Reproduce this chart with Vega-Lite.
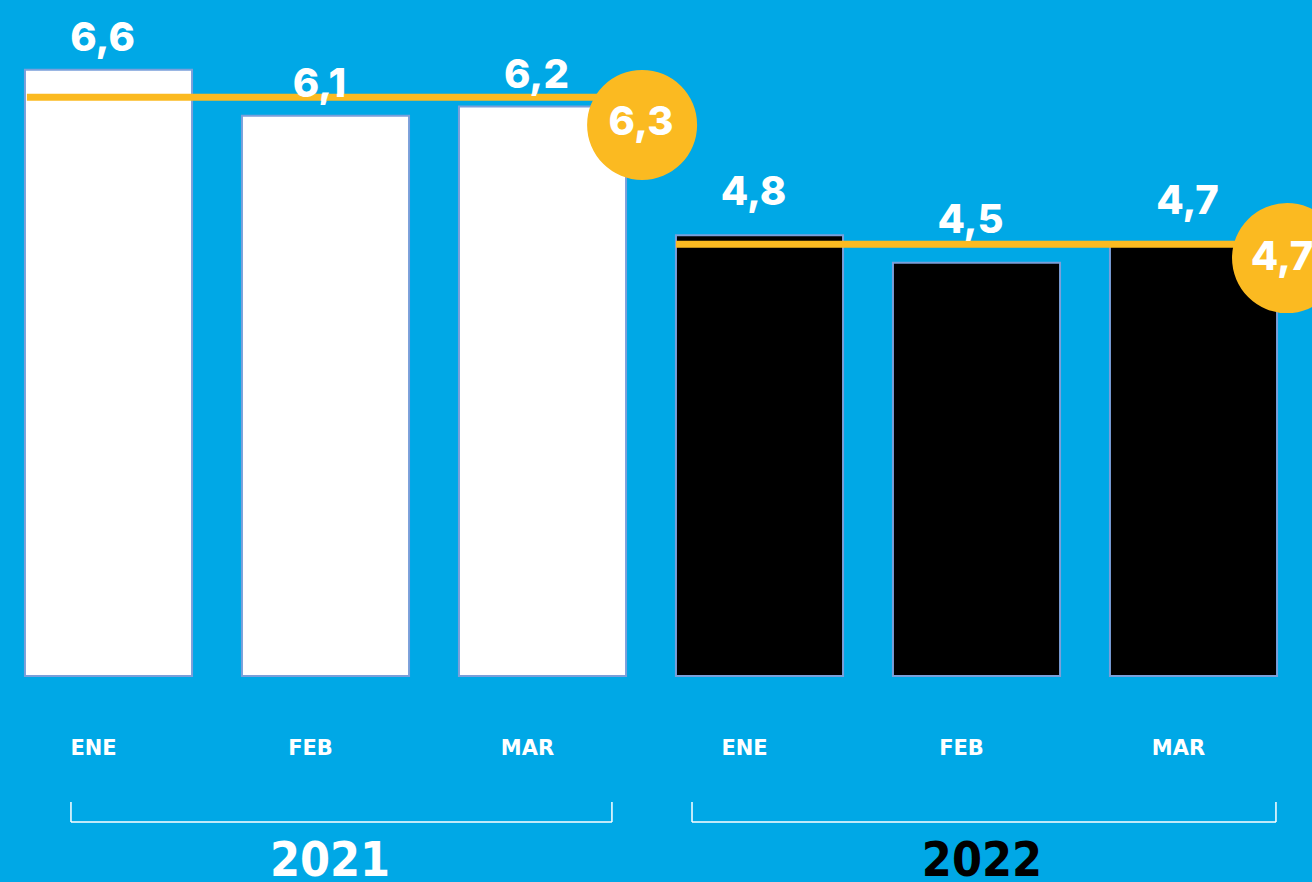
{
  "$schema": "https://vega.github.io/schema/vega-lite/v6.json",
  "width": 1302,
  "height": 676,
  "autosize": {"type": "none"},
  "padding": {"left": 0, "top": 0, "right": 10, "bottom": 206},
  "background": "#00A8E6",
  "config": {"view": {"stroke": null}},
  "datasets": {
    "bars": [
      {"key": "ENE|2021", "month": "ENE", "year": "2021", "value": 6.6, "label": "6,6"},
      {"key": "FEB|2021", "month": "FEB", "year": "2021", "value": 6.1, "label": "6,1"},
      {"key": "MAR|2021", "month": "MAR", "year": "2021", "value": 6.2, "label": "6,2"},
      {"key": "ENE|2022", "month": "ENE", "year": "2022", "value": 4.8, "label": "4,8"},
      {"key": "FEB|2022", "month": "FEB", "year": "2022", "value": 4.5, "label": "4,5"},
      {"key": "MAR|2022", "month": "MAR", "year": "2022", "value": 4.7, "label": "4,7"}
    ],
    "avg": [
      {"year": "2021", "avg": 6.3, "label": "6,3"},
      {"year": "2022", "avg": 4.7, "label": "4,7"}
    ]
  },
  "layer": [
    {
      "data": {"name": "bars"},
      "mark": {"type": "bar", "stroke": "#7A9FDA", "strokeWidth": 2},
      "encoding": {
        "x": {
          "field": "key", "type": "nominal", "sort": null,
          "scale": {"paddingInner": 0.23, "paddingOuter": 0.115},
          "axis": {
            "orient": "bottom", "title": null, "ticks": false, "domain": false, "grid": false,
            "labelAngle": 0, "labelExpr": "split(datum.label,'|')[0]",
            "labelFont": "DejaVu Sans", "labelFontWeight": "bold", "labelFontSize": 21,
            "labelColor": "#ffffff", "labelPadding": 61, "labelOffset": -15
          }
        },
        "y": {"field": "value", "type": "quantitative", "scale": {"domain": [0, 7.36], "nice": false, "zero": true}, "axis": null},
        "color": {"field": "year", "type": "nominal", "scale": {"domain": ["2021", "2022"], "range": ["#ffffff", "#000000"]}, "legend": null}
      }
    },
    {
      "data": {"name": "avg"},
      "layer": [
        {
          "transform": [{"filter": "datum.year == '2021'"}],
          "mark": {"type": "rule", "color": "#FBBA21", "strokeWidth": 7},
          "encoding": {
            "x": {"datum": 0.124, "type": "quantitative", "scale": {"domain": [0, 6], "nice": false, "zero": false}, "axis": null},
            "x2": {"datum": 2.959},
            "y": {"field": "avg", "type": "quantitative", "scale": {"domain": [0, 7.36], "nice": false}, "axis": null}
          }
        },
        {
          "transform": [{"filter": "datum.year == '2022'"}],
          "mark": {"type": "rule", "color": "#FBBA21", "strokeWidth": 7},
          "encoding": {
            "x": {"datum": 3.115, "type": "quantitative", "scale": {"domain": [0, 6], "nice": false, "zero": false}, "axis": null},
            "x2": {"datum": 5.931},
            "y": {"field": "avg", "type": "quantitative", "axis": null}
          }
        },
        {
          "transform": [{"filter": "datum.year == '2021'"}],
          "mark": {"type": "circle", "color": "#FBBA21", "opacity": 1, "size": 12100},
          "encoding": {
            "x": {"datum": 2.959, "type": "quantitative", "axis": null},
            "y": {"datum": 6.0, "type": "quantitative", "axis": null}
          }
        },
        {
          "transform": [{"filter": "datum.year == '2022'"}],
          "mark": {"type": "circle", "color": "#FBBA21", "opacity": 1, "size": 12100},
          "encoding": {
            "x": {"datum": 5.931, "type": "quantitative", "axis": null},
            "y": {"datum": 4.55, "type": "quantitative", "axis": null}
          }
        },
        {
          "transform": [{"filter": "datum.year == '2021'"}],
          "mark": {"type": "text", "color": "#ffffff", "font": "Inter", "fontWeight": 800, "fontSize": 40, "baseline": "alphabetic", "align": "center"},
          "encoding": {
            "x": {"datum": 2.954, "type": "quantitative", "axis": null},
            "y": {"datum": 5.89, "type": "quantitative", "axis": null},
            "text": {"field": "label"}
          }
        },
        {
          "transform": [{"filter": "datum.year == '2022'"}],
          "mark": {"type": "text", "color": "#ffffff", "font": "Inter", "fontWeight": 800, "fontSize": 40, "baseline": "alphabetic", "align": "center"},
          "encoding": {
            "x": {"datum": 5.908, "type": "quantitative", "axis": null},
            "y": {"datum": 4.42, "type": "quantitative", "axis": null},
            "text": {"field": "label"}
          }
        },
        {
          "transform": [{"filter": "datum.year == '2021'"}],
          "mark": {"type": "rule", "color": "#ffffff", "strokeWidth": 1.5},
          "encoding": {
            "x": {"datum": 0.327, "type": "quantitative", "axis": null},
            "x2": {"datum": 2.82},
            "y": {"datum": -1.59, "type": "quantitative", "axis": null}
          }
        },
        {
          "transform": [{"filter": "datum.year == '2021'"}],
          "mark": {"type": "rule", "color": "#ffffff", "strokeWidth": 1.5},
          "encoding": {
            "x": {"datum": 0.327, "type": "quantitative", "axis": null},
            "y": {"datum": -1.372, "type": "quantitative", "axis": null},
            "y2": {"datum": -1.59}
          }
        },
        {
          "transform": [{"filter": "datum.year == '2021'"}],
          "mark": {"type": "rule", "color": "#ffffff", "strokeWidth": 1.5},
          "encoding": {
            "x": {"datum": 2.82, "type": "quantitative", "axis": null},
            "y": {"datum": -1.372, "type": "quantitative", "axis": null},
            "y2": {"datum": -1.59}
          }
        },
        {
          "transform": [{"filter": "datum.year == '2022'"}],
          "mark": {"type": "rule", "color": "#ffffff", "strokeWidth": 1.5},
          "encoding": {
            "x": {"datum": 3.189, "type": "quantitative", "axis": null},
            "x2": {"datum": 5.88},
            "y": {"datum": -1.59, "type": "quantitative", "axis": null}
          }
        },
        {
          "transform": [{"filter": "datum.year == '2022'"}],
          "mark": {"type": "rule", "color": "#ffffff", "strokeWidth": 1.5},
          "encoding": {
            "x": {"datum": 3.189, "type": "quantitative", "axis": null},
            "y": {"datum": -1.372, "type": "quantitative", "axis": null},
            "y2": {"datum": -1.59}
          }
        },
        {
          "transform": [{"filter": "datum.year == '2022'"}],
          "mark": {"type": "rule", "color": "#ffffff", "strokeWidth": 1.5},
          "encoding": {
            "x": {"datum": 5.88, "type": "quantitative", "axis": null},
            "y": {"datum": -1.372, "type": "quantitative", "axis": null},
            "y2": {"datum": -1.59}
          }
        },
        {
          "transform": [{"filter": "datum.year == '2021'"}],
          "mark": {"type": "text", "color": "#ffffff", "font": "DejaVu Sans Condensed", "fontWeight": "bold", "fontSize": 48, "baseline": "alphabetic", "align": "center"},
          "encoding": {
            "x": {"datum": 1.521, "type": "quantitative", "axis": null},
            "y": {"datum": -2.18, "type": "quantitative", "axis": null},
            "text": {"field": "year"}
          }
        },
        {
          "transform": [{"filter": "datum.year == '2022'"}],
          "mark": {"type": "text", "color": "#000000", "font": "DejaVu Sans Condensed", "fontWeight": "bold", "fontSize": 48, "baseline": "alphabetic", "align": "center"},
          "encoding": {
            "x": {"datum": 4.525, "type": "quantitative", "axis": null},
            "y": {"datum": -2.18, "type": "quantitative", "axis": null},
            "text": {"field": "year"}
          }
        }
      ]
    },
    {
      "data": {"name": "bars"},
      "layer": [
        {
          "transform": [{"filter": "datum.year == '2021'"}],
          "mark": {"type": "text", "color": "#ffffff", "font": "Inter", "fontWeight": 800, "fontSize": 40, "baseline": "alphabetic", "align": "center", "dx": -6, "dy": -19},
          "encoding": {
            "x": {"field": "key", "type": "nominal", "sort": null, "scale": {"paddingInner": 0.23, "paddingOuter": 0.115}, "axis": null},
            "y": {"field": "value", "type": "quantitative", "axis": null},
            "text": {"field": "label"}
          }
        },
        {
          "transform": [{"filter": "datum.year == '2022'"}],
          "mark": {"type": "text", "color": "#ffffff", "font": "Inter", "fontWeight": 800, "fontSize": 40, "baseline": "alphabetic", "align": "center", "dx": -6, "dy": -30},
          "encoding": {
            "x": {"field": "key", "type": "nominal", "sort": null, "axis": null},
            "y": {"field": "value", "type": "quantitative", "axis": null},
            "text": {"field": "label"}
          }
        }
      ]
    }
  ],
  "resolve": {"scale": {"x": "independent"}}
}
